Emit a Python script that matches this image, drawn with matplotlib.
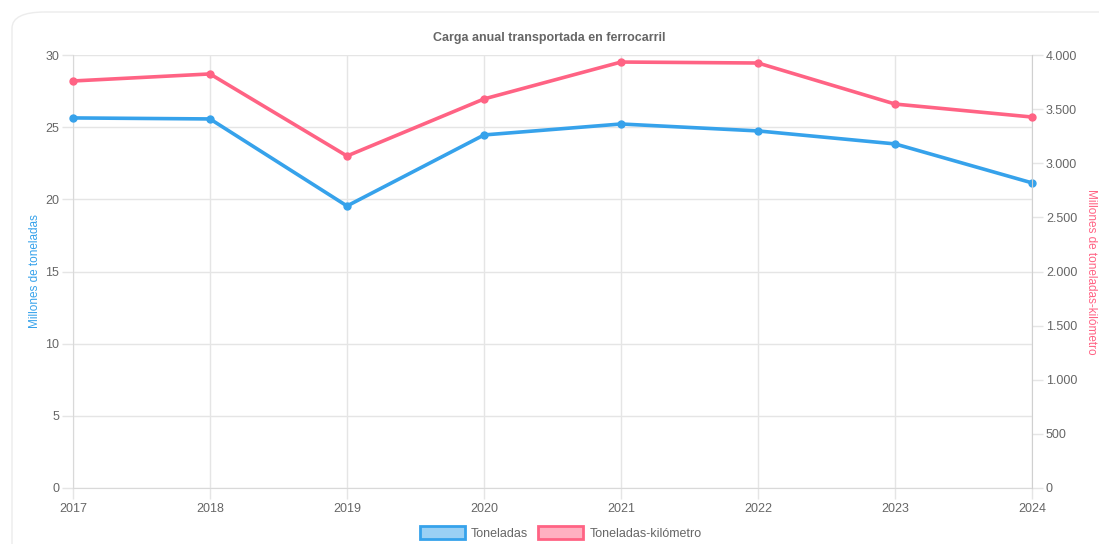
import matplotlib
matplotlib.use('Agg')
import matplotlib.pyplot as plt
from matplotlib.patches import FancyBboxPatch, Patch
from matplotlib.ticker import FuncFormatter

# Datos
years = [2017, 2018, 2019, 2020, 2021, 2022, 2023, 2024]
toneladas = [25.64, 25.57, 19.54, 24.46, 25.22, 24.74, 23.84, 21.14]
ton_km = [3760, 3825, 3067, 3594, 3935, 3926, 3547, 3427]

blue = '#36A2EB'
red = '#FF6384'
text_c = '#666666'
grid_c = '#e5e5e5'

plt.rcParams['font.family'] = ['Liberation Sans', 'DejaVu Sans']

fig = plt.figure(figsize=(10.99, 5.44), dpi=100)

# card background
card = FancyBboxPatch((12 / 1099, -0.05), 1.2, (544 - 12) / 544 + 0.05,
                      boxstyle='round,pad=0,rounding_size=0.03',
                      transform=fig.transFigure, facecolor='white',
                      edgecolor='#ececec', linewidth=1.0, zorder=-10)
fig.patches.append(card)

ax = fig.add_axes([73 / 1099, 56 / 544, (1032 - 73) / 1099, (488 - 55) / 544])
ax.set_facecolor('none')
ax2 = ax.twinx()

ax.plot(years, toneladas, color=blue, lw=2.6, marker='o', ms=5,
        markerfacecolor=blue, markeredgecolor=blue, clip_on=False, zorder=5)
ax2.plot(years, ton_km, color=red, lw=2.6, marker='o', ms=5,
         markerfacecolor=red, markeredgecolor=red, clip_on=False, zorder=5)

ax.set_xlim(2017, 2024)
ax.set_ylim(0, 30)
ax2.set_ylim(0, 4000)
ax.set_xticks(years)
ax.set_yticks(range(0, 31, 5))
ax2.set_yticks(range(0, 4001, 500))
ax2.yaxis.set_major_formatter(FuncFormatter(lambda v, p: f'{int(v):,}'.replace(',', '.')))

ax.grid(True, color=grid_c, lw=1)
ax.set_axisbelow(True)
ax2.grid(False)

for a in (ax, ax2):
    for s in a.spines.values():
        s.set_visible(False)
ax.spines['left'].set_visible(True)
ax.spines['left'].set_color('#d9d9d9')
ax.spines['bottom'].set_visible(True)
ax.spines['bottom'].set_color('#d9d9d9')
ax2.spines['right'].set_visible(True)
ax2.spines['right'].set_color('#d0d0d0')

ax.tick_params(axis='both', colors=grid_c, labelcolor=text_c, labelsize=9,
               length=8, width=1, pad=2)
ax.tick_params(axis='x', pad=3)
ax2.tick_params(axis='y', colors=grid_c, labelcolor=text_c, labelsize=9,
                length=8, width=1, pad=2)

ax.set_ylabel('Millones de toneladas', color=blue, fontsize=8.5, labelpad=3)
ax2.set_ylabel('Millones de toneladas-kilómetro', color=red, fontsize=8.5,
               rotation=-90, labelpad=14)

fig.text(0.5, 1 - 38 / 544, 'Carga anual transportada en ferrocarril',
         ha='center', va='center', fontsize=9, fontweight='bold', color=text_c)

handles = [Patch(facecolor=blue + '80', edgecolor=blue, lw=2, label='Toneladas'),
           Patch(facecolor=red + '80', edgecolor=red, lw=2, label='Toneladas-kilómetro')]
fig.legend(handles=handles, loc='center', bbox_to_anchor=(0.51, 1 - 533 / 544),
           ncol=2, frameon=False, fontsize=9, labelcolor=text_c,
           handlelength=3.6, handleheight=1.2, columnspacing=0.8, handletextpad=0.5)

fig.savefig('out.png', dpi=100)
